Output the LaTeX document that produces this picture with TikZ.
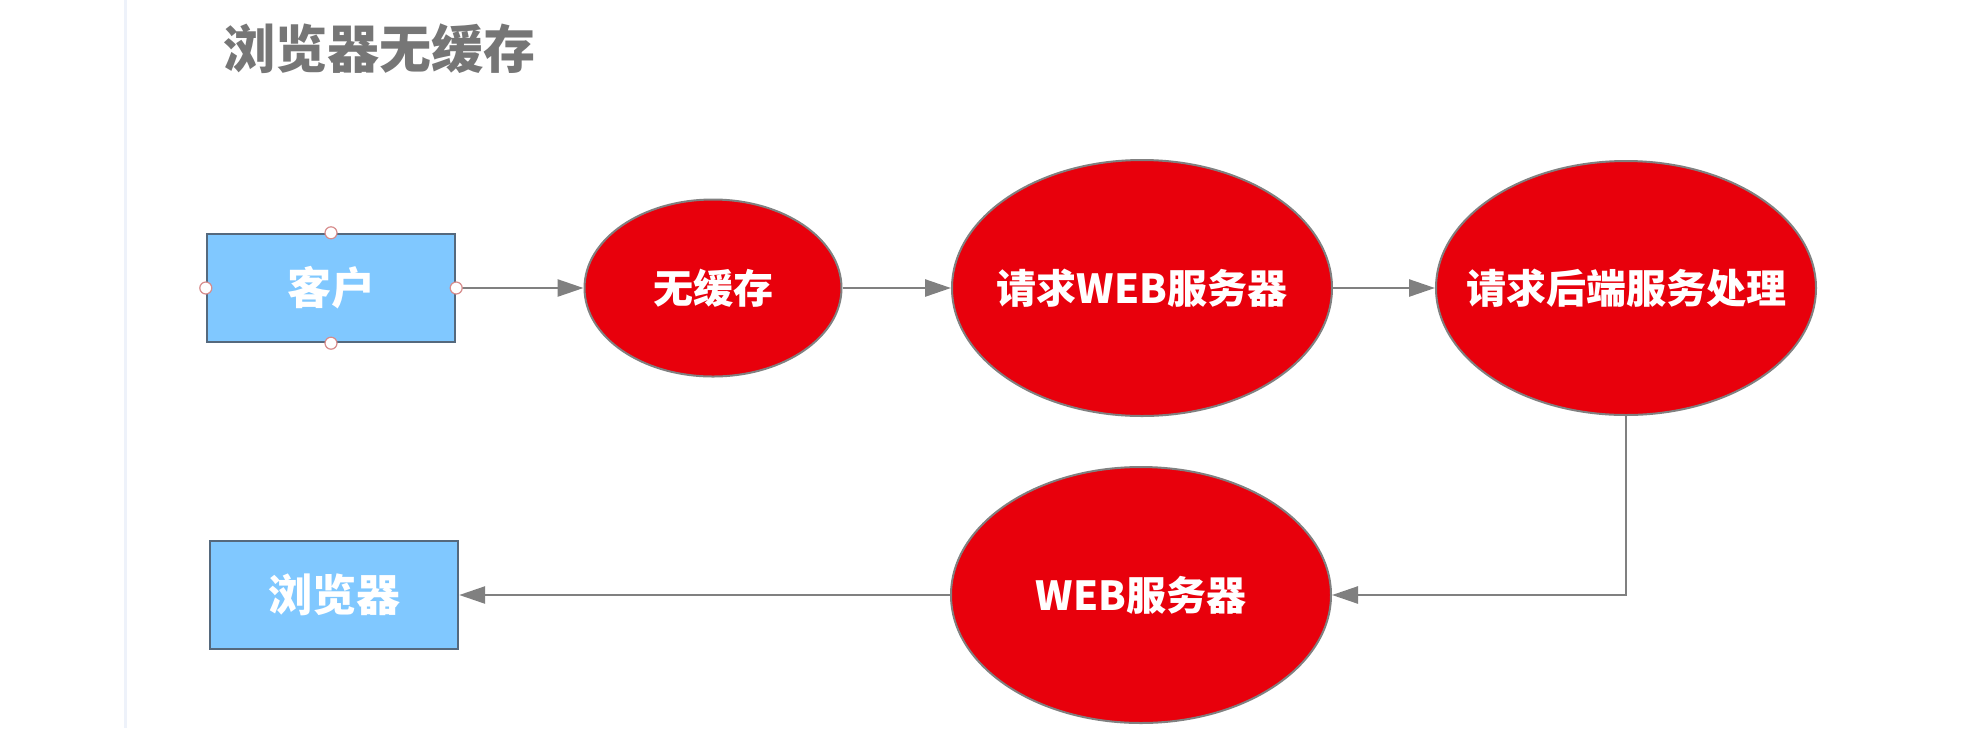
\documentclass[tikz,border=0pt]{standalone}
\usepackage{fontspec}
\newfontfamily\cjk{Noto Sans CJK SC}
\usetikzlibrary{shapes.geometric}
\usetikzlibrary{arrows.meta}
\newcommand\flattxt[1]{\makebox[0pt]{#1}} % text that does not widen the ellipse

\begin{document}
\begin{tikzpicture}[x=0.5pt,y=-0.5pt]
\definecolor{myred}{RGB}{232,0,12}
\definecolor{myblue}{RGB}{128,200,255}
\definecolor{mygray}{RGB}{128,128,128}
\definecolor{titlecol}{RGB}{118,118,118}
\definecolor{boxline}{RGB}{85,105,125}
\definecolor{handlecol}{RGB}{215,140,140}
\definecolor{panelcol}{RGB}{238,242,250}
\tikzstyle{myarr}=[-{Triangle[length=13pt,width=8.5pt]}]
\tikzset{
conn/.style={mygray,line width=1.3pt},
bubble/.style={ellipse,fill=myred,draw=mygray,line width=1pt,inner sep=0pt,
  text=white,font=\cjk\bfseries\fontsize{20}{24}\selectfont},
client/.style={rectangle,fill=myblue,draw=boxline,line width=1.2pt,inner sep=0pt,
  minimum width=124pt,minimum height=54pt,
  text=white,font=\cjk\bfseries\fontsize{22}{26}\selectfont},
handle/.style={circle,fill=white,draw=handlecol,line width=0.6pt,inner sep=0pt,minimum size=6pt},
}
\def\W{1978}   % picture width (px)
\def\H{741}    % picture height (px)
\def\ya{288}   % upper row
\def\yb{595}   % lower row

\useasboundingbox (0,0) rectangle (\W,\H);

% PANEL EDGE
\draw[panelcol,line width=1.5pt] (125,0) -- (125,728);

% TITLE
\node[text=titlecol,font=\cjk\bfseries\fontsize{26}{30}\selectfont] (title) at (379,49) {浏览器无缓存};

% UPPER ROW
\node[client] (kh) at (331,\ya) {客户};
\node[bubble,minimum width=128.5pt,minimum height=88.5pt] (nc) at (713,\ya) {\flattxt{无缓存}};
\node[bubble,minimum width=190pt,minimum height=128pt] (qw) at (1142,\ya) {\flattxt{请求WEB服务器}};
\node[bubble,minimum width=190pt,minimum height=127pt] (hd) at (1626,\ya) {\flattxt{请求后端服务处理}};

% LOWER ROW
\node[bubble,minimum width=190pt,minimum height=128pt] (web) at (1141,\yb) {\flattxt{WEB服务器}};
\node[client] (br) at (334,\yb) {浏览器};

% CONNECTORS
\draw[conn,myarr] (kh.east) -- (nc.west);
\draw[conn,myarr] (nc.east) -- (qw.west);
\draw[conn,myarr] (qw.east) -- (hd.west);
\draw[conn,myarr] (hd.south) |- (web.east);
\draw[conn,myarr] (web.west) -- (br.east);

% SELECTION HANDLES
\foreach \a in {north,south,east,west}
  \node[handle] (kh-\a) at (kh.\a) {};

\end{tikzpicture}
\end{document}
